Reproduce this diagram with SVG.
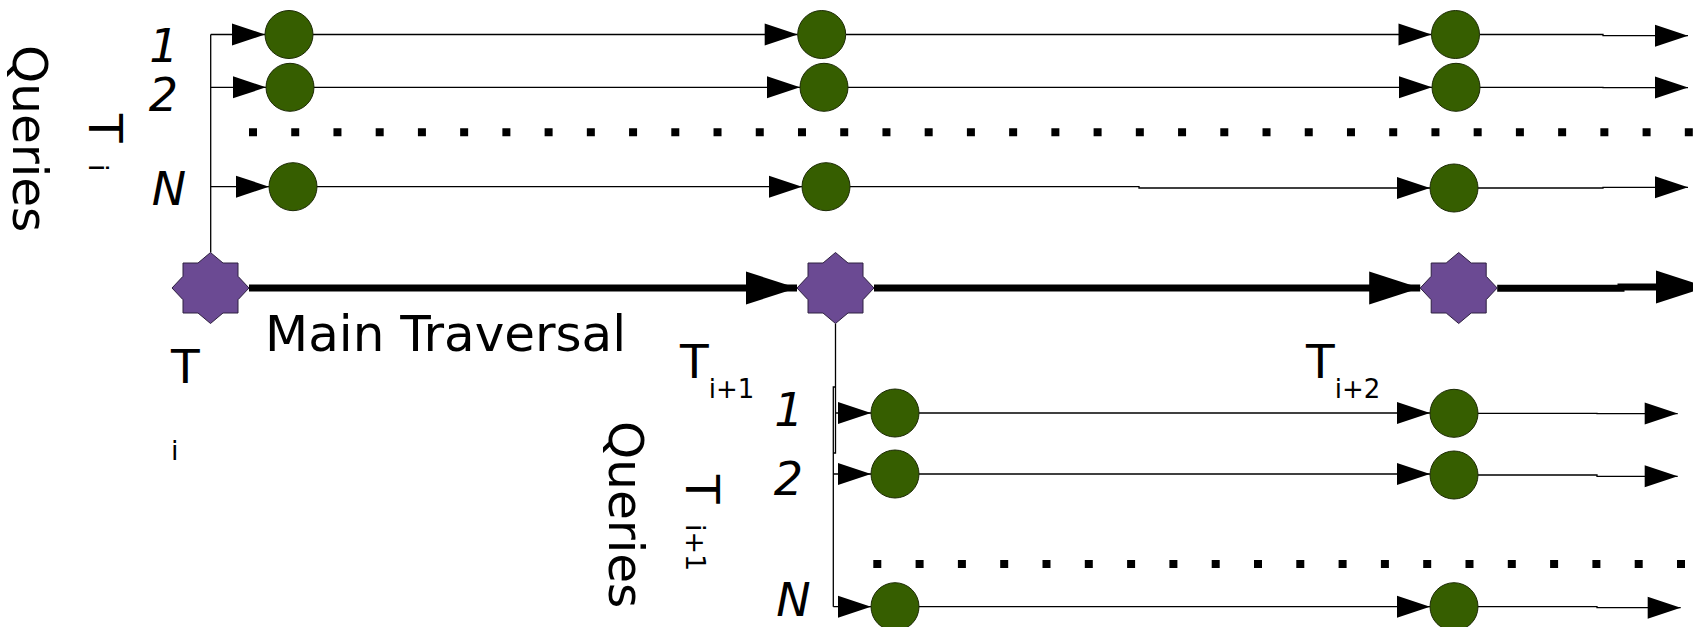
<svg xmlns="http://www.w3.org/2000/svg" xmlns:xlink="http://www.w3.org/1999/xlink" width="1693" height="627" viewBox="0 0 1693 627">
<style>
text{font-family:"DejaVu Sans","Liberation Sans",sans-serif;fill:#000}
.big{font-size:47px}
.qr{font-size:48.5px}
.mt{font-size:50px}
.sub{font-size:26px}
.rsub{font-size:27px}
.lbl{font-size:46px;font-style:italic;text-anchor:middle}
.q{fill:#365e00;stroke:#1c2a05;stroke-width:1}
.st{fill:#6b4a93;stroke:#2e2040;stroke-width:1}
.ln{fill:none;stroke:#000;stroke-width:1.3}
.thick{fill:none;stroke:#000;stroke-width:7}
.dots{stroke:#000;stroke-width:8;fill:none}
</style>
<defs>
<marker id="a" markerUnits="userSpaceOnUse" markerWidth="33" markerHeight="22" refX="33" refY="11" orient="auto" overflow="visible"><path d="M0,0 L33,11 L0,22 z" fill="#000"/></marker>
<marker id="A" markerUnits="userSpaceOnUse" markerWidth="51" markerHeight="33" refX="51" refY="16.5" orient="auto" overflow="visible"><path d="M0,0 L51,16.5 L0,33 z" fill="#000"/></marker>
<polygon id="star" points="0,-35.5 12.5,-25 27.5,-25 27.5,-11.7 38.5,0 27.5,11.7 27.5,25 12.5,25 0,35.5 -12.5,25 -27.5,25 -27.5,11.7 -38.5,0 -27.5,-11.7 -27.5,-25 -12.5,-25"/>
</defs>

<g id="connectors">
<path class="ln" d="M210.7,252.5 V34.5"/>
<path class="ln" marker-end="url(#a)" d="M210.7,34.5 H265"/>
<path class="ln" marker-end="url(#a)" d="M210.7,87.3 H266"/>
<path class="ln" marker-end="url(#a)" d="M210.7,186.7 H269"/>
<path class="ln" marker-end="url(#a)" d="M313,34.5 H797.7"/>
<path class="ln" marker-end="url(#a)" d="M314,87.3 H800"/>
<path class="ln" marker-end="url(#a)" d="M317,186.7 H802"/>
<path class="ln" marker-end="url(#a)" d="M845.7,34.5 H1431.5"/>
<path class="ln" marker-end="url(#a)" d="M848,87.3 H1432"/>
<path class="ln" marker-end="url(#a)" d="M850,186.7 H1139 V188 H1430"/>
<path class="ln" marker-end="url(#a)" d="M1479.5,34.5 H1603 V35.7 H1688"/>
<path class="ln" marker-end="url(#a)" d="M1480,87.3 H1603 V87.6 H1688"/>
<path class="ln" marker-end="url(#a)" d="M1478,188 H1603 V187.3 H1688"/>
<line class="dots" x1="249" y1="132.3" x2="1693" y2="132.3" stroke-dasharray="8 34.23"/>
<path class="thick" marker-end="url(#A)" d="M249,288 H797"/>
<path class="thick" marker-end="url(#A)" d="M874,288 H1420.2"/>
<path class="thick" marker-end="url(#A)" d="M1497.2,288.3 H1621 V287 H1707"/>
<path class="ln" d="M835.5,323.5 V453 H833.3"/>
<path class="ln" d="M835.5,387 H833.3 V606.7"/>
<path class="ln" marker-end="url(#a)" d="M836,413 H871"/>
<path class="ln" marker-end="url(#a)" d="M833.3,474 H871"/>
<path class="ln" marker-end="url(#a)" d="M833.3,606.7 H871"/>
<path class="ln" marker-end="url(#a)" d="M919,413 H1430"/>
<path class="ln" marker-end="url(#a)" d="M919,474 H1430"/>
<path class="ln" marker-end="url(#a)" d="M919,606.7 H1430"/>
<path class="ln" marker-end="url(#a)" d="M1478,413.3 H1597 V413.6 H1677.7"/>
<path class="ln" marker-end="url(#a)" d="M1478,475 H1597 V476.3 H1677.7"/>
<path class="ln" marker-end="url(#a)" d="M1478,606.7 H1597 V607.7 H1680.7"/>
<line class="dots" x1="873.3" y1="564" x2="1693" y2="564" stroke-dasharray="8 34.3"/>
</g>

<g id="star-Ti"><use xlink:href="#star" href="#star" class="st" x="210.5" y="288"/></g>
<g id="star-Ti1"><use xlink:href="#star" href="#star" class="st" x="835.5" y="288"/></g>
<g id="star-Ti2"><use xlink:href="#star" href="#star" class="st" x="1458.7" y="288"/></g>

<g id="top-q1">
<circle class="q" cx="289" cy="34.5" r="24"/>
<circle class="q" cx="821.7" cy="34.5" r="24"/>
<circle class="q" cx="1455.5" cy="34.5" r="24"/>
</g>
<g id="top-q2">
<circle class="q" cx="290" cy="87.3" r="24"/>
<circle class="q" cx="824" cy="87.3" r="24"/>
<circle class="q" cx="1456" cy="87.3" r="24"/>
</g>
<g id="top-qN">
<circle class="q" cx="293" cy="186.7" r="24"/>
<circle class="q" cx="826" cy="186.7" r="24"/>
<circle class="q" cx="1454" cy="188" r="24"/>
</g>
<g id="bot-q1">
<circle class="q" cx="895" cy="413" r="24"/>
<circle class="q" cx="1454" cy="413.3" r="24"/>
</g>
<g id="bot-q2">
<circle class="q" cx="895" cy="474" r="24"/>
<circle class="q" cx="1454" cy="475" r="24"/>
</g>
<g id="bot-qN">
<circle class="q" cx="895" cy="606.7" r="24"/>
<circle class="q" cx="1454" cy="606.7" r="24"/>
</g>

<g id="labels">
<text class="qr" transform="translate(13,45) rotate(90)">Queries</text>
<text class="big" transform="translate(89,114) rotate(90)">T</text>
<text class="rsub" transform="translate(89,164) rotate(90)">i</text>
<text class="lbl" x="164" y="62">1</text>
<text class="lbl" x="163.5" y="111">2</text>
<text class="lbl" x="169" y="205">N</text>

<text class="mt" x="265" y="351">Main Traversal</text>
<text class="big" x="171" y="383">T</text>
<text class="rsub" x="171" y="460">i</text>
<text class="big" x="680" y="378">T<tspan class="sub" dy="20">i+1</tspan></text>
<text class="big" x="1306" y="378">T<tspan class="sub" dy="20">i+2</tspan></text>

<text class="qr" transform="translate(609,421) rotate(90)">Queries</text>
<text class="big" transform="translate(686,475) rotate(90)">T</text>
<text class="rsub" transform="translate(686,524) rotate(90)">i+1</text>
<text class="lbl" x="789" y="426">1</text>
<text class="lbl" x="788.5" y="495">2</text>
<text class="lbl" x="793.5" y="616">N</text>
</g>
</svg>
